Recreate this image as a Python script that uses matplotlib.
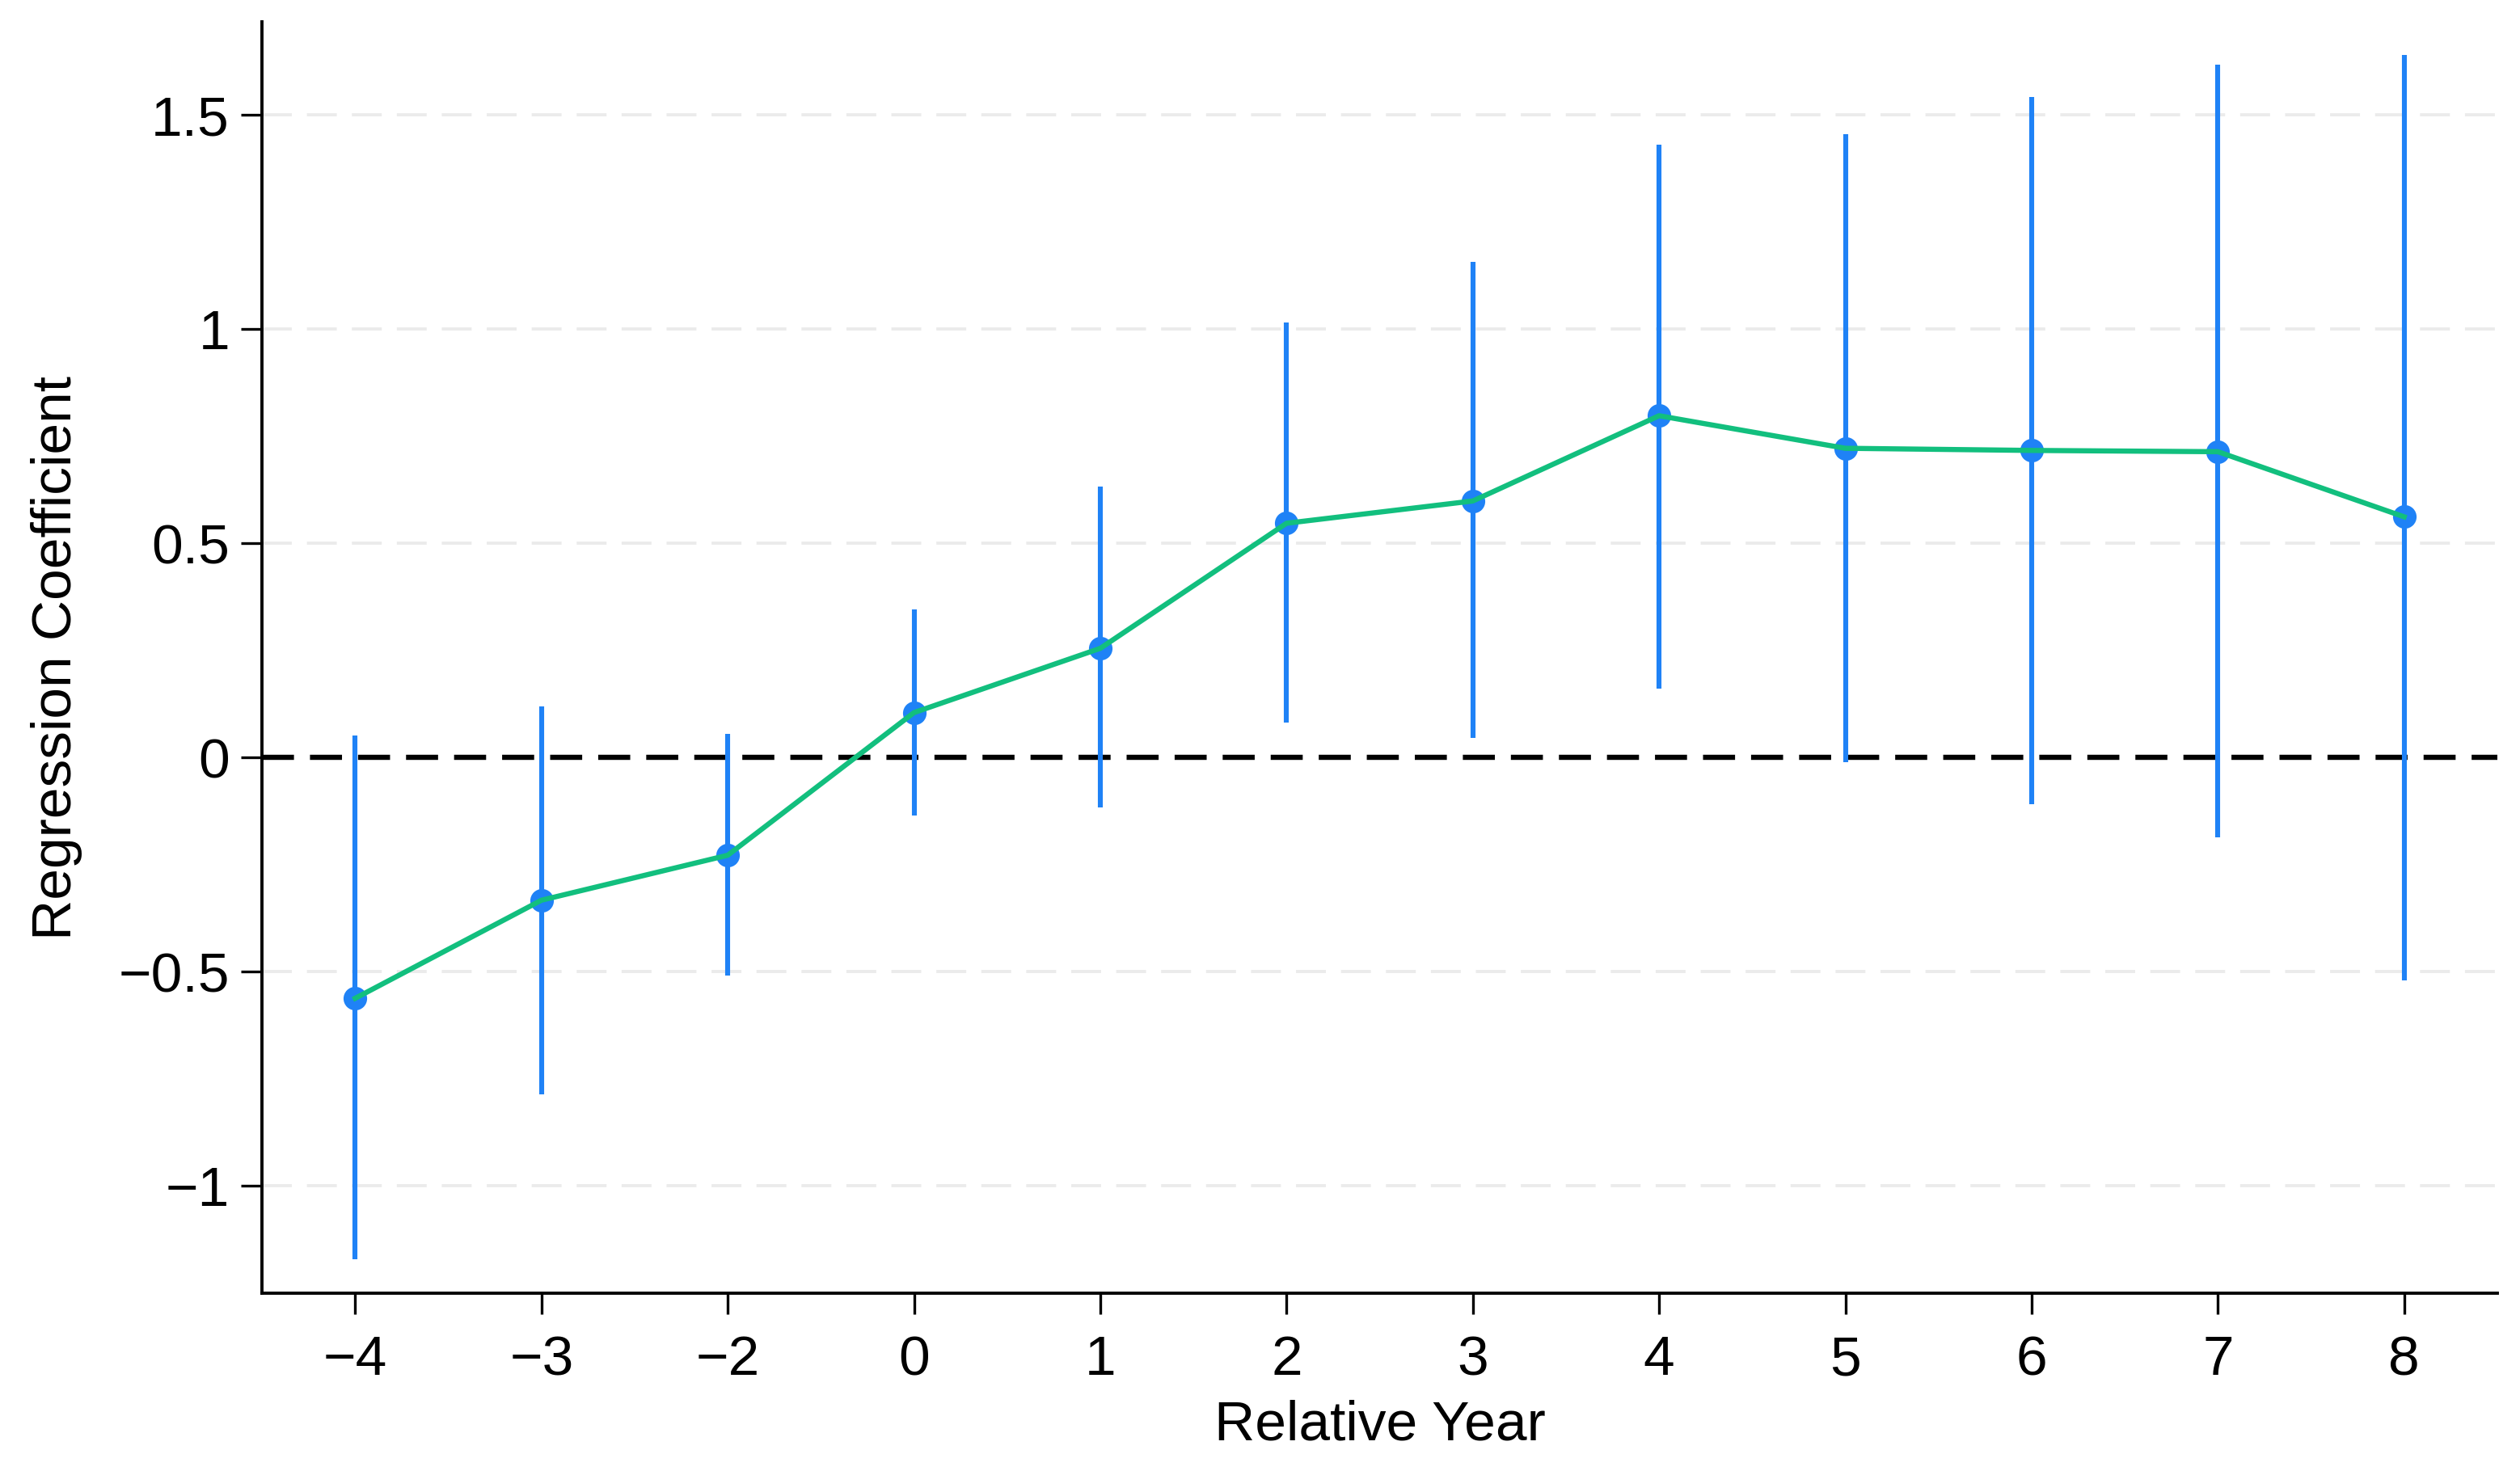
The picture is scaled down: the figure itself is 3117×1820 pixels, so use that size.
import numpy as np
import matplotlib
matplotlib.use("Agg")
from matplotlib import pyplot as plt

plt.rcParams['font.family'] = ['Liberation Sans', 'DejaVu Sans']

# event-study estimates
years = [-4, -3, -2, 0, 1, 2, 3, 4, 5, 6, 7, 8]
coef = [-0.562, -0.333, -0.228, 0.105, 0.255, 0.547, 0.599, 0.798, 0.722, 0.717, 0.714, 0.562]
ci_low = [-1.172, -0.787, -0.509, -0.135, -0.116, 0.082, 0.045, 0.161, -0.011, -0.109, -0.187, -0.521]
ci_high = [0.052, 0.120, 0.056, 0.345, 0.633, 1.015, 1.157, 1.431, 1.455, 1.543, 1.617, 1.640]
y_ticks = [-1, -0.5, 0, 0.5, 1, 1.5]

blue = '#1f82f6'
green = '#12bf7e'

fig = plt.figure(figsize=(15.585, 9.1), dpi=200)
ax = fig.add_axes([0.104, 0.121, 0.887, 0.864])

pos = np.arange(len(years))
coef = np.array(coef)

# light dashed horizontal grid
for yv in y_ticks:
    if yv != 0:
        ax.axhline(yv, color='#ebebeb', lw=1.4, dashes=(9.5, 4.8), zorder=0)
ax.axhline(0, color='black', lw=2.3, dashes=(6.2, 3.1), zorder=1)

ax.vlines(pos, ci_low, ci_high, color=blue, lw=2.2, zorder=2)
ax.plot(pos, coef, 'o', color=blue, markersize=10.5, markeredgewidth=0, zorder=3)
ax.plot(pos, coef, '-', color=green, lw=2.3, zorder=4)

ax.set_xlim(-0.5, len(years) - 0.5)
ax.set_ylim(-1.25, 1.717)
ax.set_xticks(pos)
ax.set_xticklabels([str(y).replace('-', '\u2212') for y in years])
ax.set_yticks(y_ticks)
ax.set_yticklabels(['{:g}'.format(v).replace('-', '\u2212') for v in y_ticks])

for side in ['top', 'right']:
    ax.spines[side].set_visible(False)
for side in ['left', 'bottom']:
    ax.spines[side].set_linewidth(1.4)

ax.tick_params(axis='both', labelsize=25, width=1.2, length=9.5, direction='out')
ax.tick_params(axis='x', pad=9)
ax.tick_params(axis='y', pad=5)

ax.set_xlabel('Relative Year', fontsize=25, labelpad=6)
ax.set_ylabel('Regression Coefficient', fontsize=25, labelpad=16)

fig.savefig('out.png', dpi=200, facecolor='white')
plt.close()
